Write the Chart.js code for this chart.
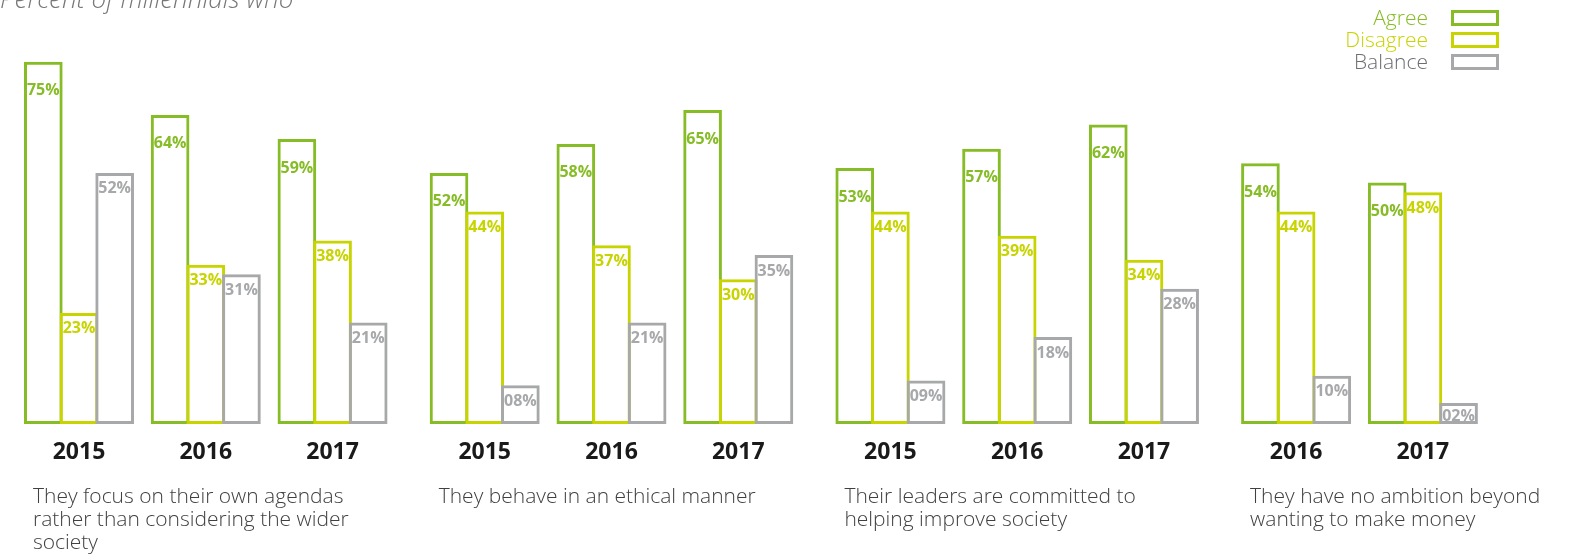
<!DOCTYPE html>
<html>
<head>
<meta charset="utf-8">
<script src="https://cdn.jsdelivr.net/npm/chart.js@4.4.0/dist/chart.umd.min.js"></script>
<style>
  body { margin: 0; background: #fff; }
  #wrap { width: 1573px; height: 559px; }
</style>
</head>
<body>
<div id="wrap"><canvas id="chart" width="1573" height="559"></canvas></div>
<script>
// Values
const years = ['2015', '2016', '2017', '2015', '2016', '2017', '2015', '2016', '2017', '2016', '2017'];
const panelOf = [0, 0, 0, 1, 1, 1, 2, 2, 2, 3, 3];
const agree = [75, 64, 59, 52, 58, 65, 53, 57, 62, 54, 50];
const disagree = [23, 33, 38, 44, 37, 30, 44, 39, 34, 44, 48];
const balance = [52, 31, 21, 8, 21, 35, 9, 18, 28, 10, 2];
const seriesNames = ['Agree', 'Disagree', 'Balance'];
const captions = [
  ['They focus on their own agendas', 'rather than considering the wider', 'society'],
  ['They behave in an ethical manner'],
  ['Their leaders are committed to', 'helping improve society'],
  ['They have no ambition beyond', 'wanting to make money']
];
const title = 'Percent of millennials who';

const colors = ['#86bc25', '#c8d400', '#a7a8aa'];
const legendText = ['#86bc25', '#c8d400', '#6d6e71'];
const labelOffset = [29, 16, 16]; // value label distance below bar top

// group slots: 5 units apart, one extra unit between question panels
const slot = years.map((y, i) => i * 5 + panelOf[i]);

function makeSet(name, values, k) {
  return {
    label: name,
    data: values.map((v, i) => ({ x: slot[i], y: v })),
    borderColor: colors[k],
    backgroundColor: 'rgba(255,255,255,0)',
    borderWidth: 3,
    borderSkipped: false,
    minBarLength: 21,
    categoryPercentage: 0.844,
    barPercentage: 1.084
  };
}

const decor = {
  id: 'decor',
  beforeDatasetsDraw(chart) {
    // draw in dataset order so the later series sits on the shared edge
    chart.getSortedVisibleDatasetMetas().forEach(meta => meta.controller.draw());
    return false;
  },
  afterDraw(chart) {
    const ctx = chart.ctx;
    const xs = chart.scales.x;
    ctx.save();

    // value labels inside the bars
    ctx.font = 'bold 16px "Open Sans"';
    ctx.textAlign = 'center';
    ctx.textBaseline = 'middle';
    chart.data.datasets.forEach((ds, d) => {
      chart.getDatasetMeta(d).data.forEach((bar, i) => {
        ctx.fillStyle = colors[d];
        const y = Math.min(bar.y + labelOffset[d], bar.base - 8);
        ctx.fillText(String(ds.data[i].y).padStart(2, '0') + '%', bar.x, y);
      });
    });

    // title, cut off at the top as in the source
    ctx.textAlign = 'left';
    ctx.textBaseline = 'alphabetic';
    ctx.font = 'italic 300 26px "Open Sans"';
    ctx.fillStyle = '#777';
    ctx.fillText(title, 0, 8);

    // legend: text then outlined box
    ctx.font = '300 21px "Open Sans"';
    ctx.textAlign = 'right';
    seriesNames.forEach((name, k) => {
      ctx.fillStyle = legendText[k];
      ctx.fillText(name, 1428, 25 + k * 22);
      ctx.strokeStyle = colors[k];
      ctx.lineWidth = 3;
      ctx.strokeRect(1452.5, 11.5 + k * 22, 45, 13);
    });

    // question captions under each panel
    ctx.textAlign = 'left';
    ctx.font = '300 21px "Open Sans"';
    ctx.fillStyle = '#404040';
    captions.forEach((lines, p) => {
      const first = panelOf.indexOf(p);
      const left = xs.getPixelForValue(slot[first]) - 46;
      lines.forEach((t, j) => ctx.fillText(t, left, 503 + j * 23));
    });
    ctx.restore();
  }
};

new Chart(document.getElementById('chart'), {
  type: 'bar',
  data: {
    datasets: [
      makeSet(seriesNames[0], agree, 0),
      makeSet(seriesNames[1], disagree, 1),
      makeSet(seriesNames[2], balance, 2)
    ]
  },
  options: {
    responsive: false,
    animation: false,
    layout: { padding: 0, autoPadding: false },
    plugins: { legend: { display: false }, tooltip: { enabled: false } },
    scales: {
      x: {
        type: 'linear',
        offset: false,
        min: -3.115,
        max: 58.92,
        grid: { display: false, drawTicks: false },
        border: { display: false },
        afterBuildTicks: s => { s.ticks = slot.map(v => ({ value: v })); },
        afterFit: s => { s.height = 135; },
        ticks: {
          autoSkip: false,
          maxRotation: 0,
          padding: 15,
          color: '#1a1a1a',
          font: { family: 'Open Sans', size: 23, weight: 'bold' },
          callback: (v, i) => years[i]
        }
      },
      y: { display: false, min: 0, max: 87.8 }
    }
  },
  plugins: [decor]
});
</script>
</body>
</html>
